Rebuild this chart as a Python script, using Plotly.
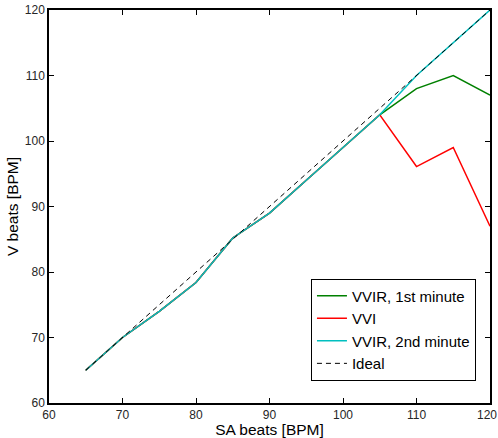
import plotly.graph_objects as go

sa = [65, 70, 75, 80, 85, 90, 95, 100, 105, 110, 115, 120]
vvir1 = [65, 70, 74, 78.4, 85.2, 89, 94, 99, 104, 108, 110, 107]
vvi = [65, 70, 74, 78.4, 85.2, 89, 94, 99, 104, 96.1, 99, 87]
vvir2 = [65, 70, 74, 78.4, 85.2, 89, 94, 99, 104, 110, 115, 120]
ideal = [65, 120]
ideal_x = [65, 120]
xticks = [60, 70, 80, 90, 100, 110, 120]
yticks = [60, 70, 80, 90, 100, 110, 120]

fig = go.Figure()
fig.add_trace(go.Scatter(x=sa, y=vvir1, mode="lines", name="VVIR, 1st minute",
                         line=dict(color="#008000", width=1.5)))
fig.add_trace(go.Scatter(x=sa, y=vvi, mode="lines", name="VVI",
                         line=dict(color="#ff0000", width=1.5)))
fig.add_trace(go.Scatter(x=sa, y=vvir2, mode="lines", name="VVIR, 2nd minute",
                         line=dict(color="#00bfbf", width=1.5)))
fig.add_trace(go.Scatter(x=ideal_x, y=ideal, mode="lines", name="Ideal",
                         line=dict(color="black", width=1, dash="5px,4px")))

tickfont = dict(size=12, color="#262626")
axis_common = dict(showgrid=False, zeroline=False, showline=True, linecolor="black",
                   linewidth=1.5, mirror="ticks", ticks="inside", ticklen=5,
                   tickcolor="black", automargin=False, tickfont=tickfont)
fig.update_layout(
    width=498, height=438,
    margin=dict(l=49, r=8, t=10, b=35),
    plot_bgcolor="white", paper_bgcolor="white",
    font=dict(family="Liberation Sans, Arial, sans-serif", color="black"),
    xaxis=dict(range=[60, 120], tickvals=xticks[:-1],
               title=dict(text="SA beats [BPM]", font=dict(size=15.5), standoff=0), **axis_common),
    yaxis=dict(range=[60, 120], tickvals=yticks,
               title=dict(text="V beats [BPM]", font=dict(size=15.5), standoff=2), **axis_common),
    legend=dict(x=0.594, y=0.057, xanchor="left", yanchor="bottom",
                bordercolor="black", borderwidth=1, bgcolor="white",
                font=dict(size=15), tracegroupgap=0),
    showlegend=True,
)
# last x tick label, nudged left so that it stays inside the page
fig.add_annotation(x=xticks[-1], xref="x", y=0, yref="paper", yanchor="top",
                   text=str(xticks[-1]), showarrow=False, yshift=-3, xshift=-3,
                   font=tickfont)
fig.write_html("out.html")
